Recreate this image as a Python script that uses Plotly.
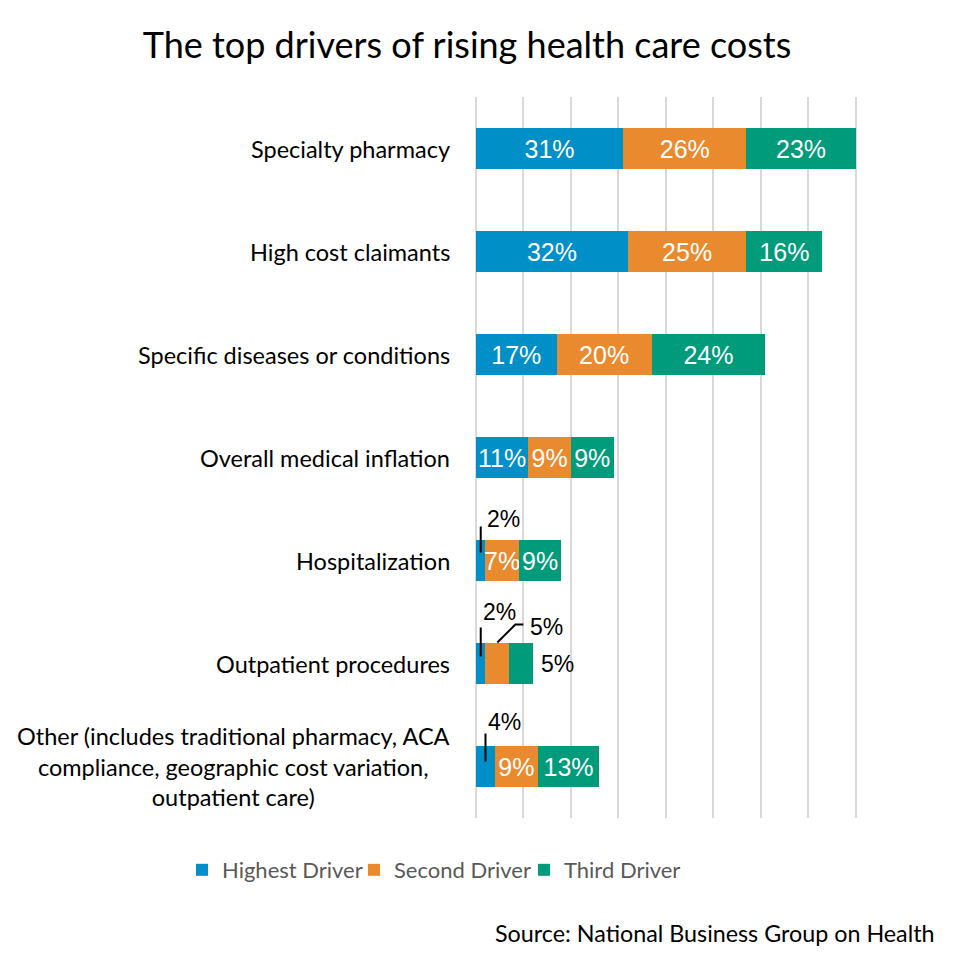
import plotly.graph_objects as go

categories = [
    "Specialty pharmacy",
    "High cost claimants",
    "Specific diseases or conditions",
    "Overall medical inflation",
    "Hospitalization",
    "Outpatient procedures",
    "Other (includes traditional pharmacy, ACA<br>compliance, geographic cost variation,<br>outpatient care)",
]
series_names = ["Highest Driver", "Second Driver", "Third Driver"]
highest = [31, 32, 17, 11, 2, 2, 4]
second = [26, 25, 20, 9, 7, 5, 9]
third = [23, 16, 24, 9, 9, 5, 13]
x_ticks = [0, 10, 20, 30, 40, 50, 60, 70, 80, 90]

title_text = "The top drivers of rising health care costs"
source_text = "Source: National Business Group on Health"

colors = ["#008FC7", "#EA8A2E", "#009B7B"]
series = [highest, second, third]

# page is drawn with an 8px body offset; work in window pixels
OFF = 8
W, H = 960 - OFF, 971 - OFF


def cx(px):
    return (px - OFF) / W


def cy(py):
    return 1 - (py - OFF) / H


# callouts for narrow segments: (category index, series index, style)
callouts = [
    (4, 0, dict(path="M 0,8 L 0,34", lx=4, ly=42)),
    (5, 0, dict(path="M 0,7 L 0,36", lx=0, ly=52)),
    (5, 1, dict(path="M 0,21 L 18,39 L 26,39", lx=31, ly=37)),
    (6, 0, dict(path="M 0,5 L 0,33", lx=1, ly=45)),
]
end_callouts = [(5, 2)]

INSIDE_MIN = 7
ypos = list(range(len(categories)))
legend_ids = ["legend", "legend2", "legend3"]
legend_left = [182, 354, 524]

fig = go.Figure()
for s, (name, vals, col) in enumerate(zip(series_names, series, colors)):
    fig.add_trace(go.Bar(
        name=name,
        y=ypos,
        x=vals,
        orientation="h",
        marker=dict(color=col, line=dict(width=0)),
        text=[f"{v}%" if v >= INSIDE_MIN else "" for v in vals],
        textposition="inside",
        insidetextanchor="middle",
        textangle=0,
        constraintext="none",
        insidetextfont=dict(family="Liberation Sans, Arial", size=25, color="white"),
        width=0.4,
        hoverinfo="skip",
        legend=legend_ids[s],
    ))

annotations = []
shapes = []
call_font = dict(family="Liberation Sans, Arial", size=23, color="black")
for (ci, si, st) in callouts:
    start = sum(series[k][ci] for k in range(si))
    centre = start + series[si][ci] / 2
    shapes.append(dict(
        type="path", xref="x", yref="y",
        xsizemode="pixel", ysizemode="pixel",
        xanchor=centre, yanchor=ci,
        path=st["path"],
        line=dict(color="black", width=2),
    ))
    annotations.append(dict(
        x=centre, y=ci, xref="x", yref="y",
        text=f"{series[si][ci]}%", showarrow=False,
        xanchor="left", yanchor="middle",
        xshift=st["lx"], yshift=st["ly"],
        font=call_font,
    ))
for (ci, si) in end_callouts:
    total = sum(series[k][ci] for k in range(si + 1))
    annotations.append(dict(
        x=total, y=ci, xref="x", yref="y",
        text=f"{series[si][ci]}%", showarrow=False,
        xanchor="left", yanchor="middle", xshift=6,
        font=call_font,
    ))

cat_font = dict(family="Lato, Open Sans", size=23.5, color="black")
for i, c in enumerate(categories):
    annotations.append(dict(
        x=0, y=i, xref="paper", yref="y",
        text=c, showarrow=False, xanchor="right", yanchor="middle",
        align="center", xshift=-24, font=cat_font,
    ))

L, R, T, B = 476, 903, 97, 818
plot_w = R - L
plot_h = B - T
annotations.append(dict(
    x=(937 - L) / plot_w, y=(B - 933) / plot_h, xref="paper", yref="paper",
    text=source_text, showarrow=False, xanchor="right", yanchor="middle",
    font=dict(family="Lato, Open Sans", size=23.3, color="black"),
))

legend_font = dict(family="Lato, Open Sans", size=22, color="#595959")
legends = {}
for lid, lx in zip(legend_ids, legend_left):
    legends[lid] = dict(
        orientation="h", xref="container", yref="container",
        x=cx(lx), xanchor="left", y=cy(870), yanchor="middle",
        font=legend_font, bgcolor="rgba(0,0,0,0)", borderwidth=0,
    )

fig.update_layout(
    width=W, height=H,
    barmode="stack",
    plot_bgcolor="white", paper_bgcolor="white",
    margin=dict(l=L - OFF, r=W - (R - OFF), t=T - OFF, b=H - (B - OFF)),
    title=dict(text=title_text, x=cx(467), xref="container", xanchor="center",
               y=cy(45), yref="container", yanchor="middle",
               font=dict(family="Lato, Open Sans", size=36, color="black")),
    xaxis=dict(range=[0, 90], tickvals=x_ticks, showticklabels=False,
               showgrid=True, gridcolor="#D9D9D9", gridwidth=2,
               zeroline=True, zerolinecolor="#D9D9D9", zerolinewidth=2,
               showline=False, fixedrange=True),
    yaxis=dict(range=[6.5, -0.5], tickvals=ypos, showticklabels=False,
               showgrid=False, zeroline=False, showline=False, fixedrange=True),
    annotations=annotations,
    shapes=shapes,
    showlegend=True,
    **legends,
)

fig.write_html("out.html")
